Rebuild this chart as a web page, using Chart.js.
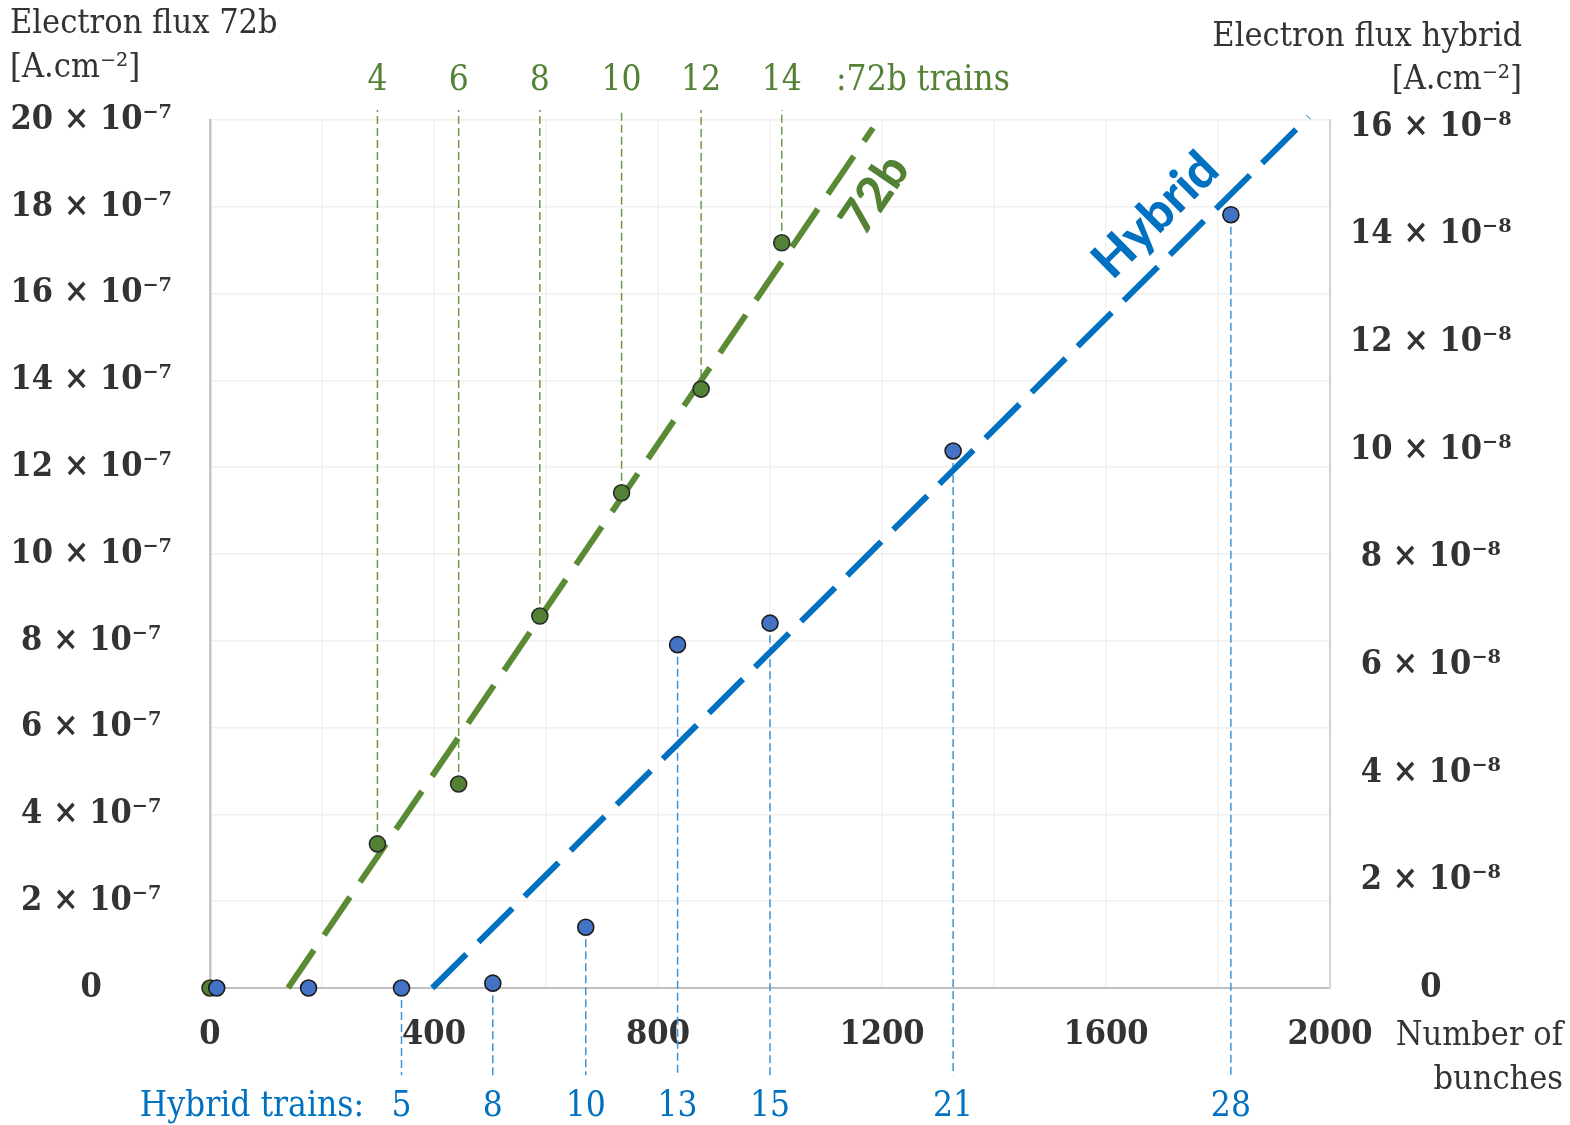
<!DOCTYPE html>
<html>
<head>
<meta charset="utf-8">
<title>Electron flux vs number of bunches</title>
<script src="https://cdn.jsdelivr.net/npm/chart.js@4/dist/chart.umd.min.js"></script>
<style>
  html, body { margin: 0; padding: 0; background: #ffffff; }
  #wrap { width: 1570px; height: 1125px; }
</style>
</head>
<body>
<div id="wrap"><canvas id="c" width="1570" height="1125"></canvas></div>
<script>
// 72b filling scheme: number of bunches, measured flux [A/cm2], trains per point
const bunches72b = [0, 299, 444, 589, 735, 877, 1021];
const flux72b = [0, 3.32e-7, 4.70e-7, 8.57e-7, 11.41e-7, 13.80e-7, 17.17e-7];
const trains72b = [null, 4, 6, 8, 10, 12, 14];

// Hybrid filling scheme
const bunchesHybrid = [12, 176, 342, 505, 671, 835, 1000, 1327, 1823];
const fluxHybrid = [0, 0, 0, 0.09e-8, 1.13e-8, 6.38e-8, 6.78e-8, 9.98e-8, 14.37e-8];
const trainsHybrid = [null, null, 5, 8, 10, 13, 15, 21, 28];

// Linear trends (end points)
const trend72bX = [139.5, 1184];
const trend72bY = [0, 19.82e-7];
const trendHybridX = [397, 1962];
const trendHybridY = [0, 16.19e-8];

// Axis ranges and tick steps
const xTicks = { min: 0, max: 2000, step: 200, labelEvery: 400 };
const yLeft = { min: 0, max: 20e-7, step: 2e-7, unit: 1e-7, exp: '⁻⁷' };
const yRight = { min: 0, max: 16.13e-8, step: 2e-8, unit: 1e-8, exp: '⁻⁸' };

// Drop-line extents (value reached beyond the plot edges)
const dropTop72b = 20.23e-7;
const dropBottomHybrid = -1.62e-8;

const GREEN = '#548235';
const GREEN_LINE = '#5a8a34';
const GREEN_DROP = '#6b9a48';
const BLUE = '#0070c0';
const BLUE_PT = '#4472c4';
const BLUE_DROP = '#3f93d6';
const TXT = '#333333';
const SERIF = '"DejaVu Serif Condensed", "DejaVu Serif", serif';
const SANS = 'Lato, "Open Sans", sans-serif';

const pts = (xs, ys) => xs.map((x, i) => ({ x: x, y: ys[i] }));

function dropData(xs, ys, trains, endVal) {
  const out = [];
  xs.forEach((x, i) => {
    if (trains[i] == null) return;
    out.push({ x: x, y: ys[i] }, { x: x, y: endVal }, { x: x, y: null });
  });
  return out;
}

const datasets = [
  {
    label: 'Hybrid',
    data: pts(bunchesHybrid, fluxHybrid),
    yAxisID: 'y1',
    showLine: false,
    pointRadius: 8,
    pointBackgroundColor: BLUE_PT,
    pointBorderColor: '#1c1c1c',
    pointBorderWidth: 1.6,
    clip: false,
    order: 0
  },
  {
    label: '72b',
    data: pts(bunches72b, flux72b),
    yAxisID: 'y',
    showLine: false,
    pointRadius: 8,
    pointBackgroundColor: GREEN,
    pointBorderColor: '#2a2a2a',
    pointBorderWidth: 1.6,
    clip: false,
    order: 1
  },
  {
    type: 'line',
    label: '72b trend',
    data: pts(trend72bX, trend72bY),
    yAxisID: 'y',
    borderColor: GREEN_LINE,
    borderWidth: 6,
    borderDash: [46, 18],
    borderCapStyle: 'butt',
    pointRadius: 0,
    fill: false,
    clip: false,
    order: 2
  },
  {
    type: 'line',
    label: 'Hybrid trend',
    data: pts(trendHybridX, trendHybridY),
    yAxisID: 'y1',
    borderColor: BLUE,
    borderWidth: 6,
    borderDash: [48, 17],
    borderCapStyle: 'butt',
    pointRadius: 0,
    fill: false,
    clip: false,
    order: 2
  },
  {
    type: 'line',
    label: '72b trains',
    data: dropData(bunches72b, flux72b, trains72b, dropTop72b),
    yAxisID: 'y',
    borderColor: GREEN_DROP,
    borderWidth: 1.5,
    borderDash: [8, 4],
    pointRadius: 0,
    spanGaps: false,
    fill: false,
    clip: false,
    order: 3
  },
  {
    type: 'line',
    label: 'Hybrid trains',
    data: dropData(bunchesHybrid, fluxHybrid, trainsHybrid, dropBottomHybrid),
    yAxisID: 'y1',
    borderColor: BLUE_DROP,
    borderWidth: 1.5,
    borderDash: [8, 4],
    pointRadius: 0,
    spanGaps: false,
    fill: false,
    clip: false,
    order: 3
  }
];

// Titles, train numbers and trend labels drawn on top of the chart
const annotations = {
  id: 'annotations',
  afterDraw(chart) {
    const { ctx, scales } = chart;
    const x = scales.x, y = scales.y, y1 = scales.y1;
    ctx.save();

    // axis titles
    ctx.fillStyle = TXT;
    ctx.font = '34px ' + SERIF;
    ctx.textBaseline = 'middle';
    ctx.textAlign = 'left';
    ctx.fillText('Electron flux 72b', 10, 24);
    ctx.fillText('[A.cm⁻²]', 10, 68);
    ctx.textAlign = 'right';
    ctx.fillText('Electron flux hybrid', 1522, 37);
    ctx.fillText('[A.cm⁻²]', 1522, 80);
    ctx.fillText('Number of', 1563, 1036);
    ctx.fillText('bunches', 1563, 1080);

    // 72b train numbers above the plot
    ctx.fillStyle = GREEN;
    ctx.textAlign = 'center';
    ctx.font = '35px ' + SERIF;
    bunches72b.forEach((b, i) => {
      if (trains72b[i] == null) return;
      ctx.fillText(String(trains72b[i]), x.getPixelForValue(b), 81);
    });
    ctx.textAlign = 'left';
    ctx.fillText(':72b trains', 836, 81);

    // Hybrid train numbers below the axis
    ctx.fillStyle = BLUE;
    ctx.textAlign = 'center';
    bunchesHybrid.forEach((b, i) => {
      if (trainsHybrid[i] == null) return;
      ctx.fillText(String(trainsHybrid[i]), x.getPixelForValue(b), 1107);
    });
    ctx.textAlign = 'right';
    ctx.fillText('Hybrid trains:', 364, 1107);

    // labels along the trend lines
    function lineLabel(text, xs, ys, scaleY, t, offset, size, color) {
      const ax = x.getPixelForValue(xs[0]), ay = scaleY.getPixelForValue(ys[0]);
      const bx = x.getPixelForValue(xs[1]), by = scaleY.getPixelForValue(ys[1]);
      const ang = Math.atan2(by - ay, bx - ax);
      const px = ax + (bx - ax) * t, py = ay + (by - ay) * t;
      // perpendicular offset (negative = above the line)
      const nx = -Math.sin(ang), ny = Math.cos(ang);
      ctx.save();
      ctx.translate(px + nx * offset, py + ny * offset);
      ctx.rotate(ang);
      ctx.fillStyle = color;
      ctx.font = '900 ' + size + 'px ' + SANS;
      ctx.textAlign = 'center';
      ctx.textBaseline = 'middle';
      ctx.fillText(text, 0, 0);
      ctx.restore();
    }
    lineLabel('72b', trend72bX, trend72bY, y, 0.948, 39, 48, GREEN);
    lineLabel('Hybrid', trendHybridX, trendHybridY, y1, 0.856, -38, 50, BLUE);

    ctx.restore();
  }
};

const tickFont = { family: SERIF, size: 34, weight: 'bold' };

new Chart(document.getElementById('c'), {
  type: 'scatter',
  data: { datasets: datasets },
  options: {
    responsive: false,
    animation: false,
    layout: { padding: { top: 120, left: 0, right: 0, bottom: 0 } },
    plugins: { legend: { display: false }, tooltip: { enabled: false } },
    scales: {
      x: {
        type: 'linear',
        min: xTicks.min,
        max: xTicks.max,
        grid: { color: '#f3f3f3', lineWidth: 1.5, drawTicks: false },
        border: { color: '#bfbfbf', width: 2 },
        ticks: {
          stepSize: xTicks.step,
          autoSkip: false,
          maxRotation: 0,
          padding: 27,
          color: TXT,
          font: tickFont,
          callback: v => (v % xTicks.labelEvery === 0 ? String(v) : '')
        },
        afterFit: s => { s.height = 137; }
      },
      y: {
        position: 'left',
        min: yLeft.min,
        max: yLeft.max,
        grid: { color: '#f0f0f0', lineWidth: 1.5, drawTicks: false },
        border: { color: '#c4c4c4', width: 2.5 },
        ticks: {
          stepSize: yLeft.step,
          autoSkip: false,
          crossAlign: 'center',
          padding: 38,
          color: TXT,
          font: tickFont,
          callback: v => {
            const n = Math.round(v / yLeft.unit);
            return n === 0 ? '0' : n + ' × 10' + yLeft.exp;
          }
        },
        afterFit: s => { s.width = 210; }
      },
      y1: {
        position: 'right',
        min: yRight.min,
        max: yRight.max,
        grid: { drawOnChartArea: false, drawTicks: false },
        border: { color: '#d2d2d2', width: 2 },
        ticks: {
          stepSize: yRight.step,
          includeBounds: false,
          autoSkip: false,
          crossAlign: 'center',
          padding: 20,
          color: TXT,
          font: tickFont,
          callback: v => {
            const n = Math.round(v / yRight.unit);
            return n === 0 ? '0' : n + ' × 10' + yRight.exp;
          }
        },
        afterFit: s => { s.width = 240; }
      }
    }
  },
  plugins: [annotations]
});
</script>
</body>
</html>
